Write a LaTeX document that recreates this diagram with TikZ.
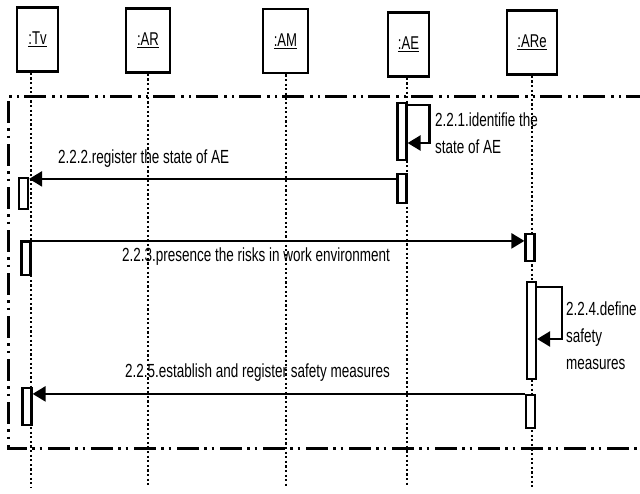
\documentclass[tikz,border=0pt]{standalone}
\usepackage{fontspec}
\setmainfont{Liberation Sans}[FakeStretch=0.71]
\usetikzlibrary{arrows.meta,calc}

\begin{document}
\begin{tikzpicture}[x=1pt,y=-1pt]
\useasboundingbox (0,0) rectangle (640,493);

\tikzset{objbox/.style = {shape=rectangle,draw,line width=2.6pt,minimum height=64pt,inner sep=0pt,font=\fontsize{18.5}{20}\selectfont}}
\tikzset{lifeline/.style = {line width=2.2pt,dash pattern=on 2.2pt off 2.4pt}}
\tikzset{act/.style = {shape=rectangle,draw,fill=white,line width=2.2pt,minimum width=9pt,inner sep=0pt}}
\tikzset{msg/.style = {->,> = {Triangle[length=13pt,width=15pt]},line width=2.4pt}}
\tikzset{lbl/.style = {inner sep=0pt,anchor=west,align=left,text=black,font=\fontsize{19}{27}\selectfont}}
\tikzset{frame/.style = {line width=3pt,dash pattern=on 22pt off 5pt on 2.5pt off 5pt on 2.5pt off 6pt}}

% frame
\draw[frame] (648,96) -- (8,96) -- (8,448) -- (648,448);

% objects and lifelines
\foreach \pos/\lx/\w/\name in {{(37.5,39.5)/31/41/Tv}, {(148,40.5)/148/44/AR}, {(285.5,41)/286/45/AM}, {(408.5,44.5)/407/41/AE}, {(532,42.5)/532/50/ARe}}{
\node[objbox,minimum width=\w pt] (\name) at \pos {\underline{:\name}};
\coordinate (\name-end) at (\lx,487);
\draw[lifeline] (\name-end |- \name.south) -- (\name-end);
}

% activations
\foreach \pos/\h/\name in {{(402,131.5)/57/ae1}, {(402,188.5)/29/ae2}, {(23.5,193.5)/31/tv1}, {(26,258.5)/33/tv2}, {(530,247.5)/27/are1}, {(531.5,330.5)/97/are2}, {(530.5,411.5)/33/are3}, {(27,406.5)/37/tv3}}
\node[act,minimum height=\h pt] (\name) at \pos {};

% messages
\draw[msg] ([yshift=-3pt]ae1.north east) -- ++(22,0) |- ([yshift=-11.5pt]ae1.east);
\draw[msg] ([yshift=-6pt]ae2.north west) -- ([yshift=-6pt]ae2.north west -| tv1.east);
\draw[msg] (tv2.north west) -- (tv2.north west -| are1.west);
\draw[msg] ([yshift=-6pt]are2.north east) -- ++(25,0) |- ([yshift=-8.5pt]are2.east);
\draw[msg] (are3.north west) -- (are3.north west -| tv3.east);

\node[lbl] (l221) at (435,133.5) {2.2.1.identifie the\\state of AE};
\node[lbl] (l222) at (58,159) {2.2.2.register the state of AE};
\node[lbl] (l223) at (122,257) {2.2.3.presence the risks in work environment};
\node[lbl] (l224) at (566,336) {2.2.4.define\\safety\\measures};
\node[lbl] (l225) at (125,373) {2.2.5.establish and register safety measures};
\end{tikzpicture}
\end{document}
